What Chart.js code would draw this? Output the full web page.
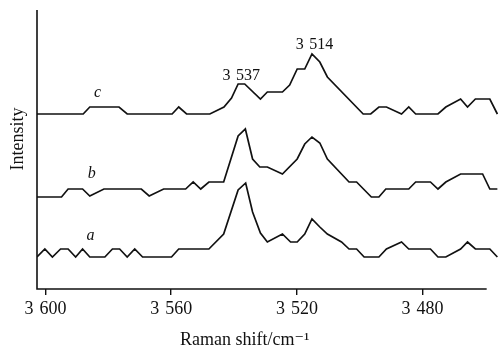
<!DOCTYPE html>
<html>
<head>
<meta charset="utf-8">
<script src="https://cdn.jsdelivr.net/npm/chart.js@4/dist/chart.umd.min.js"></script>
<style>
  html, body { margin: 0; padding: 0; background: #fff; }
  #wrap { width: 498px; height: 347px; }
</style>
</head>
<body>
<div id="wrap"><canvas id="myChart"></canvas></div>
<script>
// Raman shift (cm-1) and intensity (arb. units)
var shiftA = [3602.7,3600.2,3597.8,3595.2,3592.8,3590.4,3588.2,3585.9,3581.1,3578.7,3576.4,3574.0,3571.6,3569.1,3559.9,3557.6,3548.0,3543.3,3538.7,3536.3,3534.1,3531.6,3529.4,3524.6,3522.0,3519.9,3517.5,3515.2,3512.7,3510.3,3505.8,3503.4,3501.0,3498.6,3493.9,3491.5,3486.7,3484.4,3477.5,3475.1,3472.6,3467.9,3465.7,3463.2,3458.6,3456.2];
var intA   = [32,40,32,40,40,32,40,32,32,40,40,32,40,32,32,40,40,55,99,106,77,56,47,55,47,47,55,70,62,55,47,40,40,32,32,40,47,40,40,32,32,40,47,40,40,32];

var shiftB = [3602.7,3594.9,3592.8,3588.2,3585.9,3581.4,3569.5,3567.0,3562.4,3555.4,3553.0,3550.6,3548.0,3543.3,3538.7,3536.4,3534.1,3531.8,3529.4,3524.6,3519.9,3517.5,3515.2,3512.7,3510.3,3503.4,3501.0,3496.3,3493.9,3491.7,3484.4,3482.2,3477.5,3475.1,3472.6,3467.9,3460.9,3458.6,3456.2];
var intB   = [92,92,100,100,93,100,100,93,100,100,107,100,107,107,153,160,130,122,122,115,130,145,152,146,130,107,107,92,92,100,100,107,107,100,107,115,115,100,100];

var shiftC = [3602.7,3588.0,3585.9,3576.6,3574.0,3559.7,3557.6,3555.1,3547.7,3543.2,3540.8,3538.7,3536.6,3531.6,3529.4,3524.6,3522.3,3519.9,3517.5,3515.2,3512.7,3510.3,3498.9,3496.5,3493.9,3491.5,3486.7,3484.4,3482.2,3475.1,3472.6,3467.9,3465.7,3463.2,3458.6,3456.2];
var intC   = [175,175,182,182,175,175,182,175,175,182,191,205,205,190,197,197,204,220,220,235,227,212,175,175,182,182,175,182,175,175,182,190,182,190,190,175];

var tickValues = [3600, 3560, 3520, 3480];
var xMax = 3602.7, xMin = 3456.0, axisEnd = 3459.6;
var yMax = 279;

var peakText = ['3\u2004537', '3\u2004514'];
var peakX = [3537.7, 3514.4];
var peakY = [213, 244];

var curveText = ['c', 'b', 'a'];
var curveX = [3583.4, 3585.3, 3585.7];
var curveY = [196, 115, 53];

var serif = '"Liberation Serif", "DejaVu Serif", serif';

function pts(xs, ys) {
  var out = [];
  for (var i = 0; i < xs.length; i++) out.push({x: xs[i], y: ys[i]});
  return out;
}
function fmt(v) {
  var s = String(v);
  return s.charAt(0) + '\u2004' + s.slice(1);
}

var lineStyle = {borderColor: '#111', borderWidth: 1.7, pointRadius: 0, tension: 0, fill: false};

var decor = {
  id: 'decor',
  afterDraw: function(chart) {
    var c = chart.ctx, a = chart.chartArea;
    var x = chart.scales.x, y = chart.scales.y;
    c.save();
    c.strokeStyle = '#111';
    c.lineWidth = 1.6;
    c.beginPath();
    c.moveTo(a.left, a.top);
    c.lineTo(a.left, a.bottom);
    c.lineTo(x.getPixelForValue(axisEnd), a.bottom);
    c.stroke();

    c.fillStyle = '#111';
    c.textAlign = 'center';
    c.textBaseline = 'middle';
    c.font = '16px ' + serif;
    for (var i = 0; i < peakText.length; i++) {
      c.fillText(peakText[i], x.getPixelForValue(peakX[i]), y.getPixelForValue(peakY[i]));
    }
    c.font = 'italic 16px ' + serif;
    for (var j = 0; j < curveText.length; j++) {
      c.fillText(curveText[j], x.getPixelForValue(curveX[j]), y.getPixelForValue(curveY[j]));
    }

    c.font = '18px ' + serif;
    c.fillText('Raman shift/cm\u207B\u00B9', x.getPixelForValue(3536.6), a.bottom + 51);

    c.translate(a.left - 19, y.getPixelForValue(150));
    c.rotate(-Math.PI / 2);
    c.fillText('Intensity', 0, 0);
    c.restore();
  }
};

var ctx = document.getElementById('myChart');
var myChart = new Chart(ctx, {
  type: 'line',
  data: {
    datasets: [
      Object.assign({label: 'a', data: pts(shiftA, intA)}, lineStyle),
      Object.assign({label: 'b', data: pts(shiftB, intB)}, lineStyle),
      Object.assign({label: 'c', data: pts(shiftC, intC)}, lineStyle)
    ]
  },
  options: {
    responsive: true,
    maintainAspectRatio: false,
    animation: false,
    layout: {padding: {left: 37, top: 10, right: 0, bottom: 0}},
    plugins: {legend: {display: false}, tooltip: {enabled: false}},
    scales: {
      x: {
        type: 'linear',
        reverse: true,
        min: xMin,
        max: xMax,
        afterBuildTicks: function(s) {
          s.ticks = tickValues.map(function(v) { return {value: v}; });
        },
        afterFit: function(s) { s.height = 58; },
        border: {display: false},
        grid: {drawOnChartArea: false, drawTicks: true, tickLength: 6, color: '#111', lineWidth: 1.4},
        ticks: {
          color: '#111',
          padding: 3,
          maxRotation: 0,
          autoSkip: false,
          font: {family: serif, size: 18},
          callback: function(v) { return fmt(v); }
        }
      },
      y: {
        display: false,
        min: 0,
        max: yMax
      }
    }
  },
  plugins: [decor]
});
</script>
</body>
</html>
